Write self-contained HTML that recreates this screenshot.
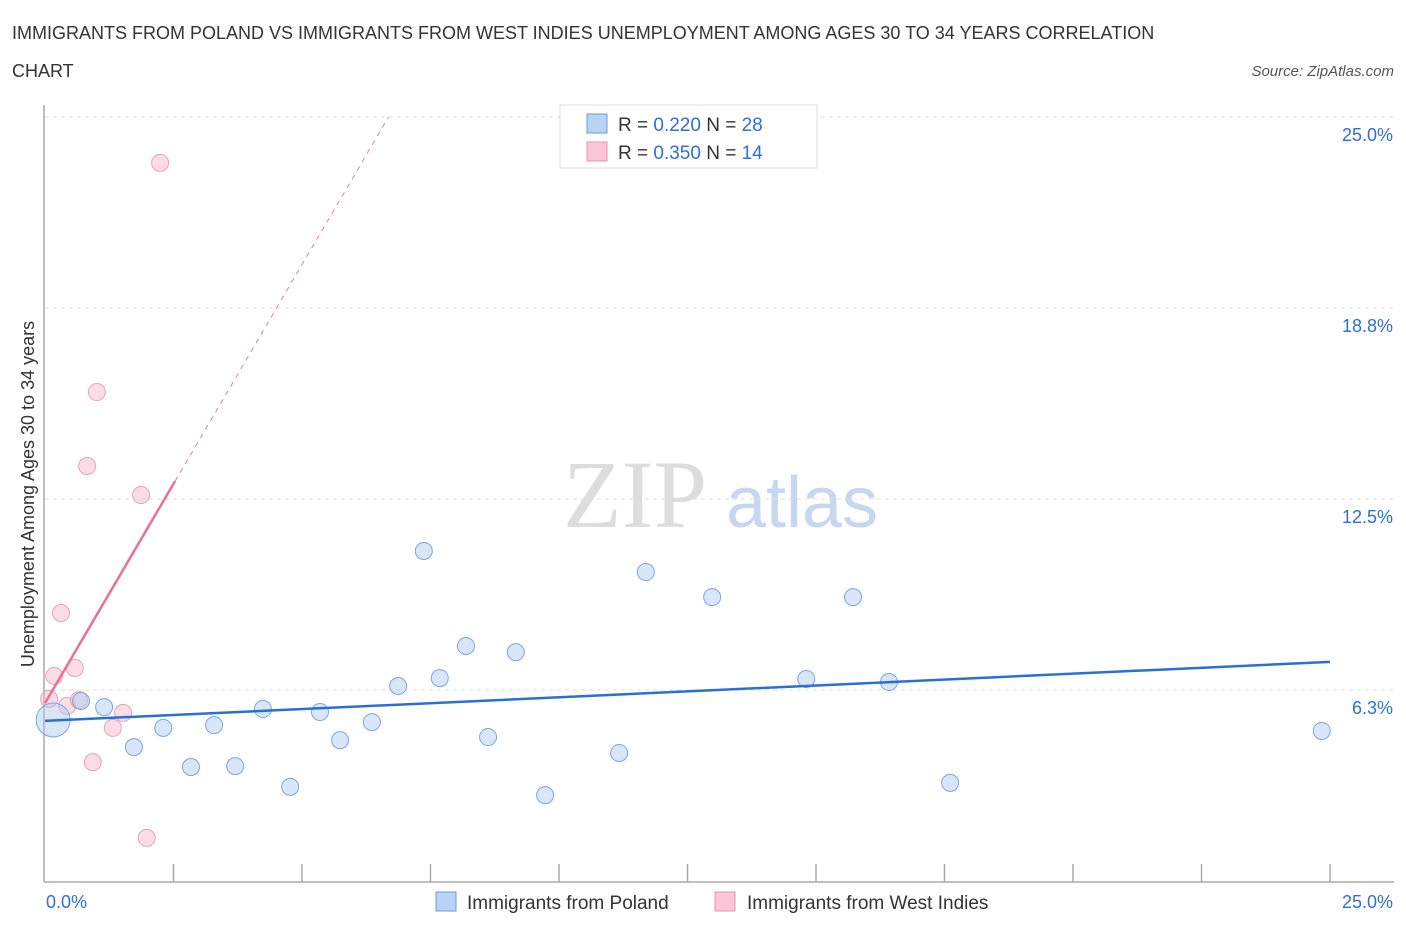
<!DOCTYPE html>
<html><head><meta charset="utf-8"><style>
body{margin:0;background:#fff;font-family:"Liberation Sans",sans-serif}
</style></head><body>
<svg width="1406" height="930" viewBox="0 0 1406 930" xmlns="http://www.w3.org/2000/svg">
<text x="12" y="39" font-size="18" fill="#333">IMMIGRANTS FROM POLAND VS IMMIGRANTS FROM WEST INDIES UNEMPLOYMENT AMONG AGES 30 TO 34 YEARS CORRELATION</text>
<text x="12" y="77" font-size="18" fill="#333">CHART</text>
<text x="1394" y="76" font-size="15" fill="#555" font-style="italic" text-anchor="end">Source: ZipAtlas.com</text>
<g>
<text x="635" y="527" font-size="96" fill="#ddd" font-family="Liberation Serif" text-anchor="middle">ZIP</text>
<text x="802" y="527" font-size="72" fill="#c5d8f0" text-anchor="middle">atlas</text>
</g>
<g id="grid"></g>
<g id="axes"></g>
<g id="marks"></g>
<text transform="translate(34,494) rotate(-90)" font-size="18" fill="#333" text-anchor="middle">Unemployment Among Ages 30 to 34 years</text>
<g>
<rect x="560" y="105" width="257" height="63" fill="#fff" stroke="#ddd"/>
<rect x="587" y="114" width="20" height="19" fill="#b8d3f5" stroke="#6a9be0"/>
<text x="618" y="131" font-size="19" fill="#333">R = <tspan fill="#2f6fd6">0.220</tspan>   N = <tspan fill="#2f6fd6">28</tspan></text>
<rect x="587" y="142" width="20" height="19" fill="#f9c7d6" stroke="#e890ac"/>
<text x="618" y="159" font-size="19" fill="#333">R = <tspan fill="#2f6fd6">0.350</tspan>   N = <tspan fill="#2f6fd6">14</tspan></text>
</g>
<g>
<rect x="436" y="892" width="20" height="19" fill="#b8d3f5" stroke="#6a9be0"/>
<text x="467" y="909" font-size="19" fill="#333">Immigrants from Poland</text>
<rect x="715" y="892" width="20" height="19" fill="#f9c7d6" stroke="#e890ac"/>
<text x="747" y="909" font-size="19" fill="#333">Immigrants from West Indies</text>
</g>
<script>
const yTicks=[6.25,12.5,18.75,25];
const yTickLabels=["6.3%","12.5%","18.8%","25.0%"];
const xLabels=["0.0%","25.0%"];
const polandX=[0.16,0.70,1.15,1.73,2.30,2.84,3.29,3.70,4.24,4.77,5.35,5.74,6.36,6.87,7.37,7.68,8.19,8.62,9.16,9.73,11.17,11.69,12.98,14.81,15.72,16.42,17.61,24.84];
const polandY=[5.27,5.89,5.69,4.38,5.01,3.73,5.10,3.76,5.63,3.08,5.53,4.61,5.20,6.38,10.80,6.64,7.69,4.71,7.49,2.81,4.19,10.11,9.29,6.61,9.29,6.51,3.21,4.91];
const westIndiesX=[2.24,1.01,0.82,1.87,0.31,0.58,0.18,0.08,0.43,0.66,1.52,1.32,0.93,1.98];
const westIndiesY=[23.50,16.00,13.58,12.63,8.77,6.97,6.71,5.96,5.73,5.92,5.50,5.01,3.89,1.41];
const polandTrend=[5.24,7.17];
const westTrend=[5.82,2.87];
const NS="http://www.w3.org/2000/svg";
const sx=v=>45+v/25*1285;
const sy=v=>881-v/6.25*191;
function mk(t,a,p){const e=document.createElementNS(NS,t);for(const k in a)e.setAttribute(k,a[k]);p.appendChild(e);return e;}
const grid=document.getElementById('grid'),axes=document.getElementById('axes'),marks=document.getElementById('marks');
yTicks.forEach((v,i)=>{
const l=mk('line',{x1:45,x2:1394,y1:sy(v),y2:sy(v),stroke:'#ddd','stroke-dasharray':'4,4'},grid);


const t=mk('text',{x:1393,y:sy(v)+24,'font-size':18,fill:'#2f6fd6','text-anchor':'end'},grid);
t.textContent=yTickLabels[i];


});
const ya=mk('line',{x1:44,x2:44,y1:105,y2:882,stroke:'#aaa','stroke-width':1.5},axes);


const xa=mk('line',{x1:44,x2:1394,y1:882,y2:882,stroke:'#aaa','stroke-width':1.5},axes);


for(let i=1;i<=10;i++){
const tk=mk('line',{x1:sx(i*2.5),x2:sx(i*2.5),y1:864,y2:882,stroke:'#aaa','stroke-width':1.5},axes);


}
[[0,'start',46],[25,'end',1393]].forEach((d,i)=>{
const t=mk('text',{x:d[2],y:908,'font-size':18,fill:'#2f6fd6','text-anchor':d[1]},axes);
t.textContent=xLabels[i];


});
westIndiesX.forEach((x,i)=>{
const c=mk('circle',{cx:sx(x),cy:sy(westIndiesY[i]),r:8.5,fill:'rgba(248,180,200,0.45)',stroke:'#eba0b8','stroke-width':1},marks);


});
polandX.forEach((x,i)=>{
const c=mk('circle',{cx:sx(x),cy:sy(polandY[i]),r:i===0?17:8.5,fill:'rgba(170,200,240,0.45)',stroke:'#7aa6e4','stroke-width':1},marks);


});
const pt=mk('line',{x1:sx(0),y1:sy(polandTrend[0]),x2:sx(25),y2:sy(polandTrend[1]),stroke:'#2a6fd6','stroke-width':2.5},marks);


const wEnd=(25-westTrend[0])/westTrend[1];
const wd=mk('line',{x1:sx(2.53),y1:sy(westTrend[0]+westTrend[1]*2.53),x2:sx(wEnd),y2:sy(25),stroke:'#e87aa0','stroke-width':1,'stroke-dasharray':'5,5'},marks);


const ws=mk('line',{x1:sx(0),y1:sy(westTrend[0]),x2:sx(2.53),y2:sy(westTrend[0]+westTrend[1]*2.53),stroke:'#e8709a','stroke-width':2.5},marks);


</script>
</svg>
</body></html>
